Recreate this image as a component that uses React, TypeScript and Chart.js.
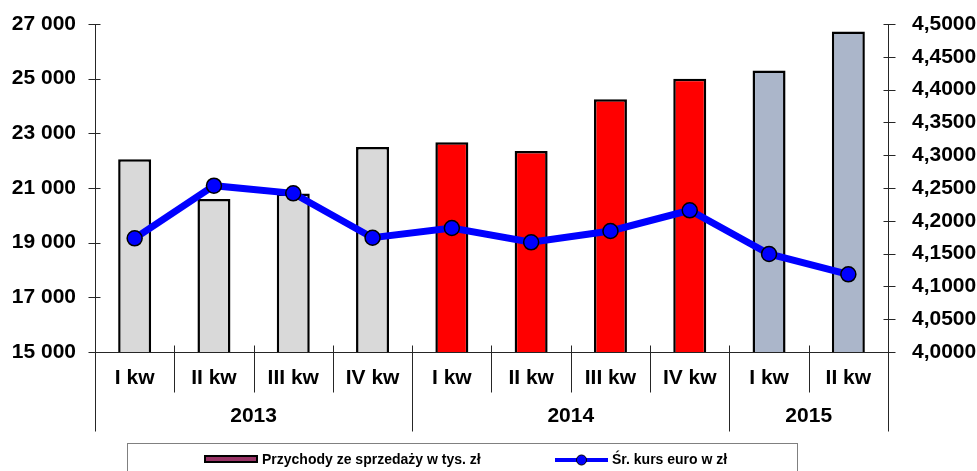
import React, { useEffect, useRef } from 'react';
import { Chart, registerables } from 'chart.js';

Chart.register(...registerables);

// ---- data ----
const quarters = ['I kw', 'II kw', 'III kw', 'IV kw', 'I kw', 'II kw', 'III kw', 'IV kw', 'I kw', 'II kw'];
const years = ['2013', '2014', '2015'];
const yearSpans = [4, 4, 2];
const yearColors = ['#D9D9D9', '#FF0000', '#ABB6CA'];
const revenue = [22050, 20600, 20800, 22500, 22670, 22350, 24250, 25000, 25300, 26730];
const euroRate = [4.1733, 4.2535, 4.2419, 4.1742, 4.189, 4.1672, 4.1845, 4.216, 4.1494, 4.1184];
const revenueAxis = { min: 15000, max: 27000, step: 2000 };
const rateAxis = { min: 4.0, max: 4.5, step: 0.05 };
const legendLabels = ['Przychody ze sprzedaży w tys. zł', 'Śr. kurs euro w zł'];
const legendBarColor = '#993366';

const FONT = '"Liberation Sans", Arial, sans-serif';

function fmtThousands(v: number): string {
  return Math.round(v).toString().replace(/\B(?=(\d{3})+(?!\d))/g, ' ');
}
function fmtRate(v: number): string {
  return v.toFixed(4).replace('.', ',');
}

export default function App() {
  const ref = useRef<HTMLCanvasElement>(null);

  useEffect(() => {
    if (!ref.current) return;
    const barColors: string[] = [];
    yearSpans.forEach((n, i) => {
      for (let k = 0; k < n; k++) barColors.push(yearColors[i]);
    });

    const overlay = {
      id: 'overlay',
      afterDraw(chart: any) {
        const { ctx, chartArea: a, scales } = chart;
        const xs = scales.x;
        const yl = scales.y;
        const yr = scales.y1;
        ctx.save();
        ctx.strokeStyle = '#262626';
        ctx.lineWidth = 1;
        const line = (x1: number, y1: number, x2: number, y2: number) => {
          ctx.beginPath();
          ctx.moveTo(x1, y1);
          ctx.lineTo(x2, y2);
          ctx.stroke();
        };
        const L = Math.round(a.left) + 0.5;
        const R = Math.round(a.right) + 0.5;
        const B = Math.round(a.bottom) + 0.5;
        const T = Math.round(a.top) + 0.5;
        // axes
        line(L, T, L, B);
        line(R, T, R, B);
        line(L, B, R, B);
        yl.ticks.forEach((t: any) => {
          const py = Math.round(yl.getPixelForValue(t.value)) + 0.5;
          line(L - 7, py, L + 5, py);
        });
        yr.ticks.forEach((t: any) => {
          const py = Math.round(yr.getPixelForValue(t.value)) + 0.5;
          line(R - 5, py, R + 7, py);
        });
        // category separators
        const step = xs.getPixelForValue(1) - xs.getPixelForValue(0);
        const start = xs.getPixelForValue(0) - step / 2;
        const yearBounds: number[] = [0];
        yearSpans.forEach((n) => yearBounds.push(yearBounds[yearBounds.length - 1] + n));
        for (let i = 0; i <= quarters.length; i++) {
          const bx = Math.round(start + i * step) + 0.5;
          const isYear = yearBounds.includes(i);
          line(bx, B - 7, bx, isYear ? B + 79 : B + 40);
        }
        // year labels
        ctx.fillStyle = '#000';
        ctx.font = `bold 21px ${FONT}`;
        ctx.textAlign = 'center';
        ctx.textBaseline = 'middle';
        years.forEach((y, i) => {
          const cx = start + ((yearBounds[i] + yearBounds[i + 1]) / 2) * step;
          ctx.fillText(y, cx, B + 64);
        });
        // legend
        ctx.strokeStyle = '#808080';
        ctx.lineWidth = 1;
        ctx.strokeRect(127.5, 443.5, 670, 40);
        ctx.fillStyle = legendBarColor;
        ctx.fillRect(205, 456, 52, 6);
        ctx.strokeStyle = '#000';
        ctx.lineWidth = 2;
        ctx.strokeRect(205, 456, 52, 6);
        ctx.strokeStyle = '#0000FF';
        ctx.lineWidth = 4;
        line(555, 460, 608, 460);
        ctx.beginPath();
        ctx.arc(581.5, 460, 5, 0, Math.PI * 2);
        ctx.fillStyle = '#0000FF';
        ctx.fill();
        ctx.strokeStyle = '#000';
        ctx.lineWidth = 1;
        ctx.stroke();
        ctx.fillStyle = '#000';
        ctx.font = `bold 14px ${FONT}`;
        ctx.textAlign = 'left';
        ctx.fillText(legendLabels[0], 262, 460);
        ctx.fillText(legendLabels[1], 612, 460);
        ctx.restore();
      },
    };

    const noVPad = (s: any, w: number) => {
      s.width = w;
      s.paddingTop = 0;
      s.paddingBottom = 0;
    };

    const chart = new Chart(ref.current, {
      type: 'bar',
      data: {
        labels: quarters,
        datasets: [
          {
            type: 'line',
            label: legendLabels[1],
            data: euroRate,
            yAxisID: 'y1',
            borderColor: '#0000FF',
            borderWidth: 7,
            pointRadius: 7.5,
            pointBackgroundColor: '#0000FF',
            pointBorderColor: '#000',
            pointBorderWidth: 1.5,
            tension: 0,
            order: 0,
          } as any,
          {
            type: 'bar',
            label: legendLabels[0],
            data: revenue,
            yAxisID: 'y',
            backgroundColor: barColors,
            borderColor: '#000',
            borderWidth: 2.5,
            borderSkipped: false,
            categoryPercentage: 0.8,
            barPercentage: 0.52,
            order: 1,
          } as any,
        ],
      },
      options: {
        animation: false,
        responsive: true,
        maintainAspectRatio: false,
        layout: { padding: { top: 24, left: 0, right: 0, bottom: 0 } },
        plugins: { legend: { display: false }, tooltip: { enabled: false } },
        scales: {
          x: {
            grid: { display: false, drawTicks: false },
            border: { display: false },
            ticks: {
              color: '#000',
              font: { family: FONT, size: 21, weight: 'bold' },
              padding: 14,
              autoSkip: false,
              maxRotation: 0,
              minRotation: 0,
            },
            afterFit: (s: any) => {
              s.height = 119;
              s.paddingLeft = 0;
              s.paddingRight = 0;
            },
          },
          y: {
            position: 'left',
            min: revenueAxis.min,
            max: revenueAxis.max,
            grid: { display: false, drawTicks: false },
            border: { display: false },
            ticks: {
              stepSize: revenueAxis.step,
              color: '#000',
              font: { family: FONT, size: 21, weight: 'bold' },
              padding: 19,
              callback: (v: any) => fmtThousands(Number(v)),
            },
            afterFit: (s: any) => noVPad(s, 95),
          },
          y1: {
            position: 'right',
            min: rateAxis.min,
            max: rateAxis.max,
            grid: { display: false, drawTicks: false },
            border: { display: false },
            ticks: {
              stepSize: rateAxis.step,
              color: '#000',
              font: { family: FONT, size: 21, weight: 'bold' },
              padding: 24,
              callback: (v: any) => fmtRate(Number(v)),
            },
            afterFit: (s: any) => noVPad(s, 89),
          },
        },
      } as any,
      plugins: [overlay],
    });
    return () => chart.destroy();
  }, []);

  return (
    <div style={{ position: 'fixed', left: 0, top: 0, width: 977, height: 471, background: '#fff' }}>
      <canvas ref={ref} />
    </div>
  );
}
